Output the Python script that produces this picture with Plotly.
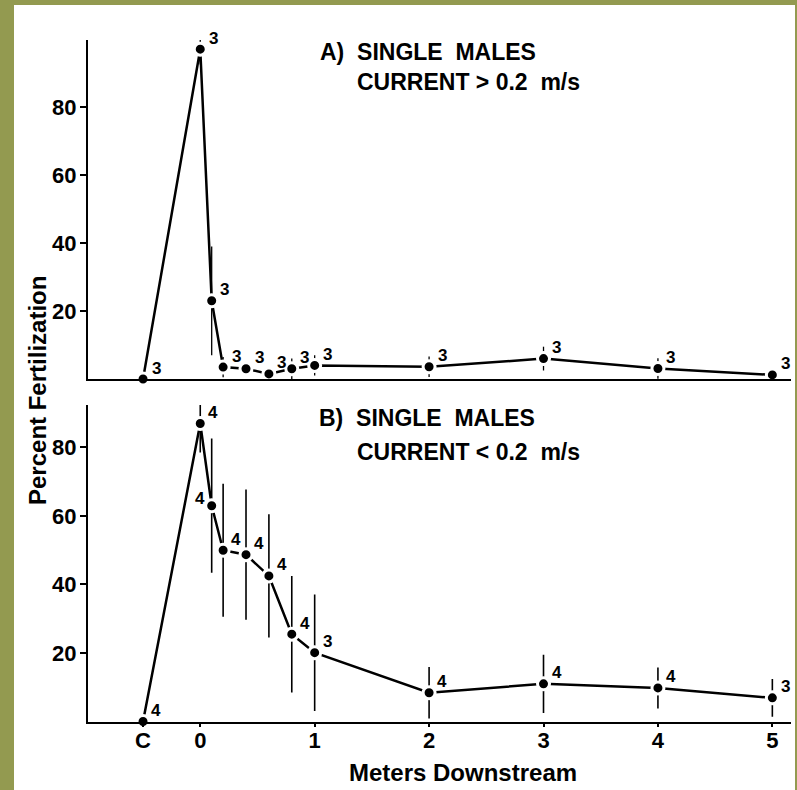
import plotly.graph_objects as go

W, H = 797, 790

# ---- data ----
dist = [-0.5, 0, 0.1, 0.2, 0.4, 0.6, 0.8, 1.0, 2, 3, 4, 5]
tick_vals = [-0.5, 0, 1, 2, 3, 4, 5]
tick_text = ["C", "0", "1", "2", "3", "4", "5"]

a_pct = [0, 97, 23, 3.5, 3, 1.5, 3, 4, 3.6, 6, 3.1, 1.2]
a_err = [0, 4.5, 16, 3, 2, 1, 3, 3, 3, 3.5, 3, 1.5]
a_n = ["3"] * 12

b_pct = [0, 87, 63, 50, 48.7, 42.5, 25.5, 20.1, 8.4, 11, 9.8, 6.9]
b_err = [0, 8.5, 19.6, 19.4, 19, 18, 17, 17, 7.5, 8.5, 6, 5.5]
b_n = ["4", "4", "4", "4", "4", "4", "4", "3", "4", "4", "4", "3"]
b_left = [False, False, True] + [False] * 9

FONT = "Liberation Sans, Arial, Helvetica, sans-serif"

def px(v):
    return v / W

def py(v):
    return 1 - v / H

fig = go.Figure()

def add_panel(y, err, n, left, xa, ya, thick):
    fig.add_trace(go.Scatter(
        x=dist, y=y, xaxis=xa, yaxis=ya, mode="lines+markers",
        line=dict(color="black", width=2.5),
        marker=dict(color="black", size=12, line=dict(color="white", width=3)),
        error_y=dict(type="data", array=err, visible=True, color="black",
                     thickness=thick, width=0),
        cliponaxis=False, showlegend=False, hoverinfo="skip",
    ))
    for xv, yv, t, lf in zip(dist, y, n, left):
        fig.add_annotation(
            x=xv, y=yv, xref=xa, yref=ya, text=t, showarrow=False,
            xanchor="center", yanchor="middle",
            xshift=-12 if lf else 13, yshift=7 if lf else 11,
            font=dict(family=FONT, size=17, color="black", weight="bold"),
        )

add_panel(a_pct, a_err, a_n, [False] * 12, "x", "y", 1.3)
add_panel(b_pct, b_err, b_n, b_left, "x2", "y2", 1.6)

xdom = [px(88), px(791)]
xr = [-0.981, 5.163]
axfont = dict(family=FONT, size=22, color="black", weight="bold")

fig.update_layout(
    width=W, height=H,
    margin=dict(l=0, r=0, t=0, b=0),
    paper_bgcolor="#939a50",
    plot_bgcolor="rgba(0,0,0,0)",
    xaxis=dict(domain=xdom, range=xr, anchor="y", showgrid=False, zeroline=False,
               showline=True, linecolor="black", linewidth=2,
               showticklabels=False, ticks=""),
    yaxis=dict(domain=[py(379), py(40)], range=[0, 99.7], anchor="x",
               showgrid=False, zeroline=False, showline=True, linecolor="black",
               linewidth=2, tickvals=[20, 40, 60, 80], ticks="outside",
               ticklen=6, tickwidth=1.5, tickcolor="black", tickfont=axfont,
               ticklabelstandoff=-1),
    xaxis2=dict(domain=xdom, range=xr, anchor="y2", showgrid=False, zeroline=False,
                showline=True, linecolor="black", linewidth=2,
                tickvals=tick_vals, ticktext=tick_text, ticks="outside",
                ticklen=3, tickwidth=1.5, tickcolor="black", tickfont=axfont,
                ticklabelstandoff=-5),
    yaxis2=dict(domain=[py(721.5), py(405)], range=[0, 92.4], anchor="x2",
                showgrid=False, zeroline=False, showline=True, linecolor="black",
                linewidth=2, tickvals=[20, 40, 60, 80], ticks="outside",
                ticklen=6, tickwidth=1.5, tickcolor="black", tickfont=axfont,
                ticklabelstandoff=-1),
    shapes=[dict(type="rect", xref="paper", yref="paper",
                 x0=px(14), x1=px(795), y0=0, y1=py(5),
                 fillcolor="white", line=dict(width=0), layer="below")],
)

tfont = dict(family=FONT, size=23, color="black", weight="bold")
NB = "\u00a0"
anns = [
    ("A)" + NB + NB + "SINGLE" + NB + NB + "MALES", 318, 52),
    ("CURRENT" + NB + ">" + NB + "0.2" + NB + NB + "m/s", 355, 82),
    ("B)" + NB + NB + "SINGLE" + NB + NB + "MALES", 317, 418),
    ("CURRENT" + NB + "<" + NB + "0.2" + NB + NB + "m/s", 355, 452),
]
for t, x, y in anns:
    fig.add_annotation(text=t, x=px(x), y=py(y), xref="paper", yref="paper",
                       xanchor="left", yanchor="middle", showarrow=False, font=tfont)

fig.add_annotation(text="Meters Downstream", x=px(463), y=py(772), xref="paper",
                   yref="paper", xanchor="center", yanchor="middle", showarrow=False,
                   font=dict(family=FONT, size=24, color="black", weight="bold"))
fig.add_annotation(text="Percent Fertilization", x=px(37), y=py(391), xref="paper",
                   yref="paper", xanchor="center", yanchor="middle", showarrow=False,
                   textangle=-90,
                   font=dict(family=FONT, size=24, color="black", weight="bold"))

fig.write_html("out.html")
